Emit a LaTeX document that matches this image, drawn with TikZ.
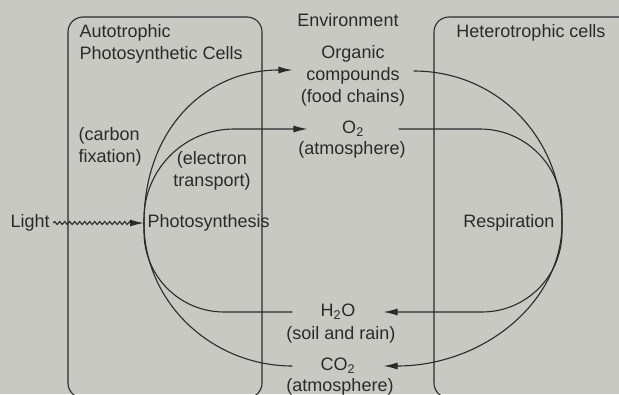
\documentclass[tikz,border=0pt]{standalone}
\usepackage{fontspec}
\setmainfont{Liberation Sans}
\usepackage{xcolor}
\usetikzlibrary{arrows.meta,decorations.pathmorphing}
\definecolor{paper}{RGB}{201,201,196}
\definecolor{ink}{RGB}{42,42,42}

\begin{document}
\begin{tikzpicture}[x=1pt, y=-1pt, line width=1.1pt, color=ink,
  every node/.style={font=\fontsize{18}{22}\selectfont, inner sep=0pt},
  cell/.style={rounded corners=15pt},
  flow/.style={-{Latex[length=14pt,width=7pt]}},
  chem/.style={minimum width=90pt, align=center},
  note/.style={align=center},
  wavy/.style={decorate, decoration={snake, amplitude=1.5pt, segment length=5pt, post length=12pt}}]
  \fill[paper] (0,0) rectangle (619,394);
  \clip (0,0) rectangle (619,394);
  \draw[cell] (68,17) rectangle (262,398);
  \draw[cell] (434,17) rectangle (650,398);

  \node (env) at (348,20) {Environment};
  \node[anchor=west, align=left] (auto) at (79,44) {Autotrophic\\Photosynthetic Cells};
  \node (hetero) at (531,33) {Heterotrophic cells};
  \node[anchor=west, align=left] (fix) at (78,147) {(carbon\\fixation)};
  \node[note] (etrans) at (212,171) {(electron\\transport)};

  \node[anchor=west, inner xsep=3pt] (light) at (7,223) {Light};
  \node[anchor=west, inner xsep=3pt] (photo) at (144,223) {Photosynthesis};
  \node[anchor=east, inner xsep=7pt] (resp) at (562,223) {Respiration};

  \node[note, minimum width=120pt] (organic) at (353,76) {Organic\\compounds\\(food chains)};
  \node[chem] (oxy) at (353,129) {O\textsubscript{2}};
  \node (oxyatm) at (352,150) {(atmosphere)};
  \node[chem] (water) at (338,312) {H\textsubscript{2}O};
  \node (watersrc) at (341,335) {(soil and rain)};
  \node[chem] (carbon) at (338,366) {CO\textsubscript{2}};
  \node (carbonatm) at (340,387) {(atmosphere)};

  \draw[flow, wavy] (light.east) -- (photo.west);
  \draw[flow] (photo.west) .. controls +(0,-92) and +(-89,0) .. ([yshift=6pt]organic.west);
  \draw[flow, rounded corners=90pt] (photo.west) |- (oxy.west);
  \draw[rounded corners=80pt] (photo.west) |- (water.west);
  \draw (photo.west) .. controls +(0,79) and +(-81,0) .. (carbon.west);
  \draw ([yshift=5pt]organic.east) .. controls +(84,0) and +(0,-85) .. (resp.east);
  \draw[rounded corners=82pt] (oxy.east) -| (resp.east);
  \draw[flow, rounded corners=80pt] (resp.east) |- (water.east);
  \draw[flow] (resp.east) .. controls +(0,80) and +(99,0) .. (carbon.east);
\end{tikzpicture}
\end{document}
